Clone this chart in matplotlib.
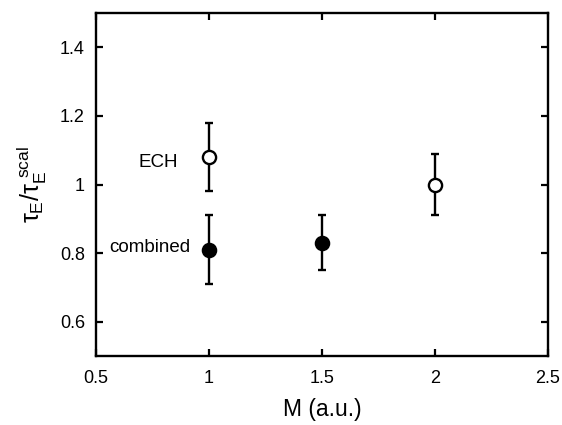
import matplotlib
matplotlib.use("Agg")
import matplotlib.pyplot as plt

# ECH (open circles) and combined (filled circles)
ech_m = [1.0, 2.0]
ech_ratio = [1.08, 1.00]
ech_err = [0.10, 0.09]

comb_m = [1.0, 1.5]
comb_ratio = [0.81, 0.83]
comb_err = [0.10, 0.08]

x_ticks = [0.5, 1, 1.5, 2, 2.5]
x_labels = ["0.5", "1", "1.5", "2", "2.5"]
y_ticks = [0.6, 0.8, 1.0, 1.2, 1.4]
y_labels = ["0.6", "0.8", "1", "1.2", "1.4"]

plt.rcParams["font.family"] = ["Liberation Sans", "DejaVu Sans"]
plt.rcParams["mathtext.fontset"] = "custom"
plt.rcParams["mathtext.rm"] = "Liberation Sans"
plt.rcParams["mathtext.it"] = "Liberation Sans"

fig = plt.figure(figsize=(5.62, 4.25), dpi=100)
ax = fig.add_axes([96 / 562, 1 - 356 / 425, 452 / 562, 343 / 425])

ax.errorbar(ech_m, ech_ratio, yerr=ech_err, fmt="o", color="black",
            mfc="white", mec="black", mew=1.7, ms=9.5, elinewidth=1.7,
            capsize=2.8, capthick=1.7, zorder=3)
ax.errorbar(comb_m, comb_ratio, yerr=comb_err, fmt="o", color="black",
            mfc="black", mec="black", mew=1.7, ms=9.5, elinewidth=1.7,
            capsize=2.8, capthick=1.7, zorder=3)

ax.text(0.777, 1.063, "ECH", ha="center", va="center", fontsize=13.5)
ax.text(0.916, 0.815, "combined", ha="right", va="center", fontsize=13.5)

ax.set_xlim(0.5, 2.5)
ax.set_ylim(0.5, 1.5)
ax.set_xticks(x_ticks)
ax.set_xticklabels(x_labels)
ax.set_yticks(y_ticks)
ax.set_yticklabels(y_labels)
ax.tick_params(direction="in", length=5, width=1.6, top=True, right=True,
               labelsize=13)
ax.tick_params(axis="x", pad=10)
ax.tick_params(axis="y", pad=8)
for s in ax.spines.values():
    s.set_linewidth(1.7)

ax.set_xlabel("M (a.u.)", fontsize=16.5, labelpad=8)
ax.set_ylabel(r"$\tau_E/\tau_E^{\ \mathrm{scal}}$", fontsize=18, labelpad=8)

fig.savefig("out.png", dpi=100)
